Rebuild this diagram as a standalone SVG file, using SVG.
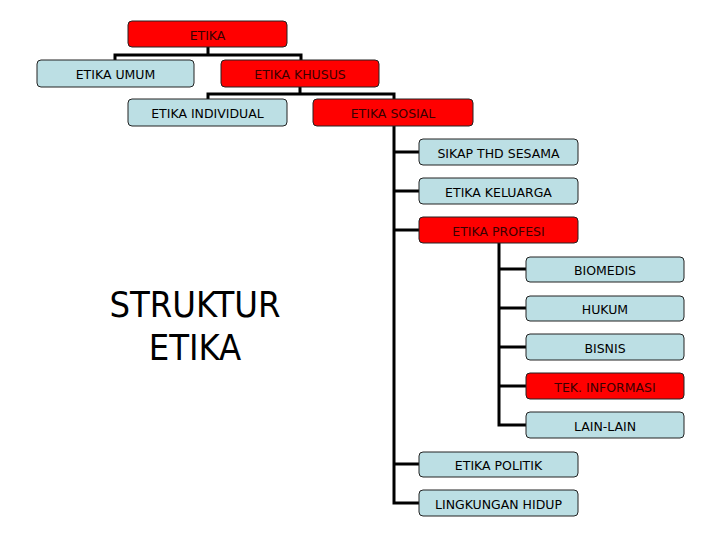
<svg xmlns="http://www.w3.org/2000/svg" width="720" height="540" viewBox="0 0 720 540">
<style>
.b rect{stroke:#222;stroke-width:1}
.blue rect{fill:#bcdfe4}
.red rect{fill:#ff0000}
.b text{font-family:"DejaVu Sans",sans-serif;font-size:12.5px;text-anchor:middle}
.blue text{fill:#000}
.red text{fill:#3a0000}
.c path{fill:none;stroke:#000;stroke-width:3}
.t{font-family:"DejaVu Sans Condensed","DejaVu Sans",sans-serif;font-size:36px;text-anchor:middle;fill:#000}
</style>
<rect width="720" height="540" fill="#fff"/>
<g class="c" id="connectors">
<path d="M208,47 V55 M115,55 H301 M115,53.5 V60 M301,53.5 V60"/>
<path d="M300,87 V94 M208,94 H394 M208,92.5 V99 M394,92.5 V99"/>
<path d="M394,126 V503 M392.5,152 H419 M392.5,191 H419 M392.5,230 H419 M392.5,464 H419 M392.5,503 H419"/>
<path d="M499,243 V425 M497.5,269 H526 M497.5,308 H526 M497.5,347 H526 M497.5,386 H526 M497.5,425 H526"/>
</g>
<g id="n_etika" class="b red"><rect x="128" y="21" width="159" height="26" rx="4"/><text x="207.5" y="40">ETIKA</text></g>
<g id="n_umum" class="b blue"><rect x="37" y="60" width="157" height="27" rx="4"/><text x="115.5" y="79">ETIKA UMUM</text></g>
<g id="n_khusus" class="b red"><rect x="221" y="60" width="158" height="27" rx="4"/><text x="300" y="79">ETIKA KHUSUS</text></g>
<g id="n_individual" class="b blue"><rect x="128" y="99" width="159" height="27" rx="4"/><text x="207.5" y="118">ETIKA INDIVIDUAL</text></g>
<g id="n_sosial" class="b red"><rect x="313" y="99" width="160" height="27" rx="4"/><text x="393" y="118">ETIKA SOSIAL</text></g>
<g id="n_sikap" class="b blue"><rect x="419" y="139" width="159" height="26" rx="4"/><text x="498.5" y="158">SIKAP THD SESAMA</text></g>
<g id="n_keluarga" class="b blue"><rect x="419" y="178" width="159" height="26" rx="4"/><text x="498.5" y="197">ETIKA KELUARGA</text></g>
<g id="n_profesi" class="b red"><rect x="419" y="217" width="159" height="26" rx="4"/><text x="498.5" y="236">ETIKA PROFESI</text></g>
<g id="n_biomedis" class="b blue"><rect x="526" y="257" width="158" height="25" rx="4"/><text x="605" y="275">BIOMEDIS</text></g>
<g id="n_hukum" class="b blue"><rect x="526" y="296" width="158" height="25" rx="4"/><text x="605" y="314">HUKUM</text></g>
<g id="n_bisnis" class="b blue"><rect x="526" y="334" width="158" height="26" rx="4"/><text x="605" y="353">BISNIS</text></g>
<g id="n_tek" class="b red"><rect x="526" y="373" width="158" height="26" rx="4"/><text x="605" y="392">TEK. INFORMASI</text></g>
<g id="n_lain" class="b blue"><rect x="526" y="412" width="158" height="26" rx="4"/><text x="605" y="431">LAIN-LAIN</text></g>
<g id="n_politik" class="b blue"><rect x="419" y="452" width="159" height="25" rx="4"/><text x="498.5" y="470">ETIKA POLITIK</text></g>
<g id="n_lingkungan" class="b blue"><rect x="419" y="490" width="159" height="26" rx="4"/><text x="498.5" y="509">LINGKUNGAN HIDUP</text></g>
<g id="title"><text class="t" x="195" y="317">STRUKTUR</text><text class="t" x="195" y="360">ETIKA</text></g>
</svg>
